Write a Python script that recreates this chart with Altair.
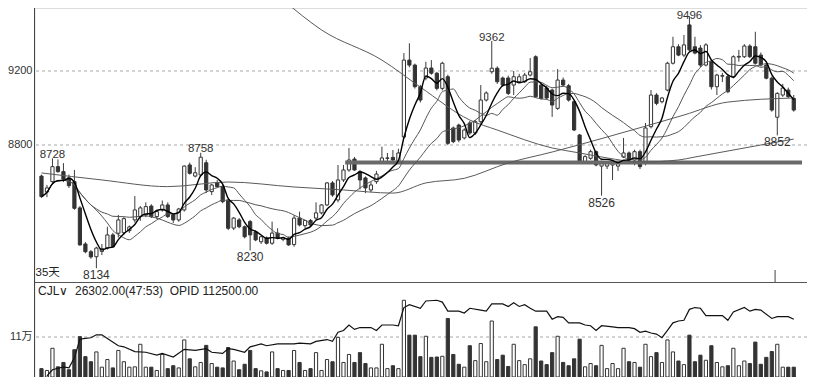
import altair as alt
import pandas as pd

# ---------------- data ----------------
OPEN = [8632, 8546, 8602, 8683, 8656, 8622, 8602, 8460, 8265, 8223,
        8196, 8225, 8243, 8314, 8323, 8326, 8337, 8395, 8413, 8422,
        8470, 8413, 8449, 8476, 8422, 8395, 8449, 8692, 8632, 8638,
        8704, 8548, 8596, 8575, 8503, 8351, 8395, 8358, 8386, 8331,
        8277, 8297, 8269, 8324, 8290, 8297, 8262, 8405, 8364, 8392,
        8405, 8433, 8476, 8595, 8503, 8611, 8665, 8724, 8656, 8622,
        8557, 8602, 8710, 8728, 8733, 8710, 8843, 9259, 9232, 9115,
        9162, 9216, 9188, 9106, 9169, 8892, 8908, 8838, 8919, 8865,
        8926, 9043, 9196, 9215, 9162, 9162, 9124, 9142, 9142, 9178,
        9277, 9124, 9108, 9097, 8998, 9151, 9120, 9034, 8854, 8710,
        8728, 8764, 8686, 8686, 8692, 8686, 8735, 8757, 8719, 8764,
        8703, 8899, 9070, 9034, 9097, 9242, 9331, 9286, 9449, 9331,
        9324, 9232, 9250, 9115, 9172, 9169, 9169, 9275, 9277, 9335,
        9331, 9286, 9232, 9161, 8950, 9070, 9097, 9052]
HIGH = [8640, 8584, 8728, 8722, 8702, 8640, 8665, 8470, 8275, 8232,
        8250, 8265, 8358, 8325, 8422, 8410, 8365, 8524, 8470, 8490,
        8480, 8450, 8500, 8490, 8430, 8460, 8690, 8705, 8680, 8758,
        8720, 8590, 8610, 8585, 8510, 8410, 8405, 8365, 8395, 8340,
        8310, 8305, 8386, 8350, 8305, 8305, 8420, 8440, 8395, 8400,
        8490, 8480, 8600, 8605, 8692, 8692, 8784, 8735, 8665, 8630,
        8600, 8660, 8791, 8757, 8773, 8780, 9297, 9350, 9240, 9125,
        9250, 9259, 9195, 9250, 9180, 8900, 8915, 8890, 8930, 8935,
        9124, 9090, 9362, 9225, 9170, 9175, 9200, 9185, 9190, 9270,
        9285, 9135, 9120, 9105, 9210, 9165, 9130, 9040, 8860, 8745,
        8775, 8770, 8715, 8712, 8712, 8710, 8838, 8765, 8775, 8775,
        8919, 9097, 9080, 9060, 9250, 9385, 9345, 9395, 9496, 9385,
        9340, 9350, 9260, 9185, 9190, 9180, 9285, 9314, 9345, 9345,
        9412, 9300, 9245, 9170, 9085, 9130, 9110, 9070]
LOW = [8514, 8518, 8595, 8650, 8600, 8568, 8450, 8255, 8215, 8185,
       8134, 8205, 8235, 8245, 8300, 8315, 8325, 8380, 8390, 8410,
       8405, 8400, 8440, 8405, 8378, 8385, 8440, 8640, 8625, 8630,
       8540, 8530, 8570, 8485, 8340, 8340, 8350, 8295, 8230, 8280,
       8265, 8262, 8260, 8290, 8280, 8255, 8250, 8360, 8350, 8360,
       8395, 8425, 8470, 8520, 8490, 8600, 8655, 8660, 8560, 8540,
       8545, 8590, 8700, 8703, 8705, 8700, 8835, 9220, 9105, 9030,
       9150, 9180, 9095, 9095, 8800, 8810, 8815, 8830, 8855, 8855,
       8915, 9035, 9185, 9130, 9115, 9070, 9070, 9135, 9135, 9170,
       9055, 9045, 9045, 8952, 8990, 9115, 9035, 8875, 8700, 8700,
       8720, 8685, 8526, 8670, 8611, 8660, 8730, 8700, 8690, 8670,
       8690, 8890, 9015, 9025, 9090, 9235, 9280, 9275, 9305, 9290,
       9220, 9225, 9100, 9070, 9140, 9080, 9160, 9250, 9270, 9270,
       9235, 9225, 9155, 8980, 8852, 9060, 9055, 8980]
CLOSE = [8521, 8568, 8683, 8656, 8615, 8580, 8458, 8260, 8223, 8195,
         8243, 8240, 8314, 8250, 8395, 8402, 8357, 8449, 8460, 8467,
         8413, 8440, 8476, 8413, 8395, 8454, 8686, 8647, 8650, 8734,
         8557, 8584, 8575, 8494, 8350, 8405, 8358, 8304, 8314, 8287,
         8304, 8269, 8324, 8297, 8300, 8260, 8405, 8368, 8392, 8368,
         8433, 8476, 8595, 8530, 8611, 8665, 8719, 8665, 8611, 8568,
         8584, 8643, 8730, 8730, 8719, 8757, 9259, 9232, 9115, 9043,
         9216, 9188, 9106, 9242, 8809, 8818, 8827, 8881, 8865, 8926,
         9043, 9081, 9215, 9142, 9124, 9079, 9169, 9169, 9178, 9196,
         9061, 9052, 9054, 9016, 9151, 9124, 9043, 8881, 8710, 8737,
         8764, 8692, 8710, 8708, 8708, 8703, 8757, 8719, 8764, 8683,
         8892, 9070, 9025, 9054, 9242, 9331, 9286, 9341, 9314, 9297,
         9232, 9341, 9115, 9178, 9175, 9088, 9277, 9279, 9335, 9277,
         9242, 9232, 9161, 8989, 9079, 9108, 9061, 8989]
VOLUME = [23000, 18000, 79000, 28000, 40000, 20000, 75000, 111000, 56000, 42000,
          69000, 27000, 48000, 25000, 73000, 42000, 27000, 28000, 90000, 27000,
          27000, 18000, 62000, 23000, 31000, 25000, 102000, 50000, 28000, 40000,
          87000, 37000, 27000, 25000, 81000, 44000, 20000, 35000, 73000, 23000,
          17000, 14000, 69000, 23000, 18000, 18000, 73000, 40000, 18000, 23000,
          67000, 18000, 48000, 42000, 109000, 40000, 62000, 40000, 67000, 37000,
          25000, 25000, 90000, 23000, 31000, 23000, 211000, 115000, 115000, 56000,
          112000, 54000, 55000, 57000, 161000, 62000, 35000, 27000, 86000, 45000,
          92000, 42000, 154000, 48000, 60000, 29000, 90000, 45000, 34000, 50000,
          138000, 44000, 34000, 67000, 112000, 40000, 31000, 50000, 104000, 28000,
          37000, 31000, 87000, 23000, 37000, 23000, 79000, 42000, 40000, 27000,
          90000, 56000, 67000, 40000, 102000, 69000, 44000, 34000, 115000, 42000,
          60000, 46000, 86000, 40000, 28000, 31000, 79000, 31000, 44000, 37000,
          96000, 35000, 54000, 70000, 90000, 27000, 27000, 27000]

# open-interest line in the lower panel (candle index, value)
OPID_IDX = [1, 2, 4, 5, 6, 7, 8, 9, 10, 11, 12, 14, 15, 17, 19, 21, 22, 24, 26, 28,
            30, 31, 33, 34, 35, 37, 38, 40, 41, 43, 46, 47, 49, 50, 52, 53, 54, 55, 56, 57,
            58, 60, 61, 62, 64, 65, 66, 67, 69, 70, 72, 73, 74, 76, 77, 78, 80, 81, 82, 84,
            85, 86, 87, 88, 89, 90, 92, 93, 94, 95, 96, 98, 99, 100, 101, 102, 104, 105, 107, 108,
            109, 110, 111, 112, 113, 114, 115, 116, 117, 118, 119, 120, 121, 123, 124, 125, 126, 128, 129, 130,
            131, 133, 134, 136, 137]
OPID_VAL = [3000, 20000, 28000, 25000, 53000, 104000, 106000, 108000, 116000, 116000,
            106000, 86000, 83000, 70000, 68000, 60000, 65000, 55000, 76000, 73000,
            78000, 68000, 65000, 78000, 76000, 68000, 83000, 91000, 86000, 91000,
            91000, 93000, 91000, 98000, 103000, 98000, 123000, 128000, 143000, 131000,
            136000, 136000, 128000, 143000, 143000, 141000, 191000, 199000, 189000, 209000,
            211000, 206000, 181000, 181000, 176000, 189000, 184000, 181000, 201000, 201000,
            194000, 204000, 194000, 199000, 189000, 181000, 181000, 159000, 166000, 164000,
            149000, 149000, 143000, 141000, 128000, 141000, 138000, 136000, 136000, 133000,
            123000, 126000, 121000, 118000, 108000, 128000, 149000, 154000, 156000, 186000,
            191000, 189000, 169000, 169000, 169000, 156000, 179000, 191000, 181000, 186000,
            184000, 161000, 166000, 166000, 159000]

# long moving averages (candle index, price)
MA60_IDX = [0, 11, 23, 34, 46, 55, 64, 70, 77, 85, 93, 103, 117, 125, 137]
MA60_VAL = [8649, 8611, 8575, 8600, 8573, 8557, 8540, 8595, 8620, 8703, 8762, 8843, 8962, 9032, 9054]
MA120_IDX = [36, 44, 51, 62, 69, 78, 83, 93, 98, 103, 109, 116, 119, 131, 137]
MA120_VAL = [9800, 9584, 9422, 9259, 9113, 8935, 8881, 8784, 8757, 8730, 8708, 8719, 8735, 8800, 8832]

PEAK_IDX = [2, 29, 82, 118]
TROUGH_IDX = [10, 38, 102, 134]
PRICE_TICKS = [8800, 9200]
VOL_TICK = 110000
VOL_TICK_LABEL = "11万"
SUPPORT_PRICE = 8706
SUPPORT_FROM, SUPPORT_TO = 55.3, 138.5
CURSOR_IDX = 133.6
DAYS_LABEL = "35天"
NB = "\u00a0"
HEADER = "CJL\u2228" + NB * 2 + "26302.00(47:53)" + NB * 2 + "OPID" + NB + "112500.00"

# ---------------- layout ----------------
W, H = 772.5, 369
X_DOMAIN = [-0.36, 138.5]
P_DOMAIN = [7546.0, 9540.5]
V_DOMAIN = [0, 1014750]
LABEL_CEIL = 9480          # keeps the highest peak label inside the page
FONT = "Liberation Sans"
CJK_FONT = "Liberation Sans, Noto Sans CJK SC"
DARK = "#333333"
GRID = "#a8a8a8"

n = len(CLOSE)
df = pd.DataFrame({"i": list(range(n)), "o": OPEN, "h": HIGH, "l": LOW,
                   "c": CLOSE, "v": VOLUME})
df["up"] = df["c"] >= df["o"]

xs = alt.Scale(domain=X_DOMAIN, nice=False, zero=False)
ps = alt.Scale(domain=P_DOMAIN, nice=False, zero=False)
vs = alt.Scale(domain=V_DOMAIN, nice=False, zero=False)


def X(field="i"):
    return alt.X(f"{field}:Q", scale=xs, axis=None)


def P(field):
    return alt.Y(f"{field}:Q", scale=ps, axis=None)


def V(field):
    return alt.Y(f"{field}:Q", scale=vs, axis=None)


fill = alt.condition("datum.up", alt.value("#ffffff"), alt.value(DARK))
base = alt.Chart(df)

# price "axis": dashed grid, labels and the left frame line
ticks_df = pd.DataFrame({"p": PRICE_TICKS, "t": [str(t) for t in PRICE_TICKS]})
pgrid = alt.Chart(ticks_df).mark_rule(color=GRID, strokeDash=[3, 3], strokeWidth=1).encode(
    y=P("p"))
plabels = alt.Chart(ticks_df).mark_text(font=FONT, fontSize=11, color="#333333",
                                        align="right", baseline="middle").encode(
    x=alt.value(-2), y=P("p"), text="t:N")
frame = alt.Chart(pd.DataFrame({"t": [0]})).mark_rule(color="#444444", strokeWidth=1).encode(
    x=alt.value(0), y=alt.value(0), y2=alt.value(H))

wick = base.mark_rule(color="#3c3c3c", strokeWidth=1).encode(
    x=X(), y=P("l"), y2="h:Q")
body = base.mark_bar(size=3.2, stroke=DARK, strokeWidth=1).encode(
    x=X(), y=P("o"), y2="c:Q", fill=fill)

support = alt.Chart(pd.DataFrame({"p": [SUPPORT_PRICE], "a": [SUPPORT_FROM],
                                  "b": [SUPPORT_TO]})).mark_rule(
    color="#6a6a6a", strokeWidth=4).encode(x=X("a"), x2="b:Q", y=P("p"))

ma60 = alt.Chart(pd.DataFrame({"i": MA60_IDX, "p": MA60_VAL})).mark_line(
    color="#5a5a5a", strokeWidth=1, interpolate="monotone", clip=True).encode(
    x=X(), y=P("p"))
ma120 = alt.Chart(pd.DataFrame({"i": MA120_IDX, "p": MA120_VAL})).mark_line(
    color="#5a5a5a", strokeWidth=1, interpolate="monotone", clip=True).encode(
    x=X(), y=P("p"))

srt = [alt.SortField("i", order="ascending")]
ma_base = base.transform_window(ma5="mean(c)", frame=[-4, 0], sort=srt) \
    .transform_window(ma10="mean(c)", frame=[-9, 0], sort=srt) \
    .transform_window(ma20="mean(c)", frame=[-19, 0], sort=srt)
ma20 = ma_base.mark_line(color="#555555", strokeWidth=1, interpolate="monotone").encode(
    x=X(), y=P("ma20"))
ma10 = ma_base.mark_line(color="#555555", strokeWidth=1, interpolate="monotone").encode(
    x=X(), y=P("ma10"))
ma5 = ma_base.mark_line(color="#000000", strokeWidth=1.4, interpolate="monotone").encode(
    x=X(), y=P("ma5"))

peaks_df = pd.DataFrame({"i": PEAK_IDX, "p": [HIGH[k] for k in PEAK_IDX],
                         "t": [str(HIGH[k]) for k in PEAK_IDX]})
troughs_df = pd.DataFrame({"i": TROUGH_IDX, "p": [LOW[k] for k in TROUGH_IDX],
                           "t": [str(LOW[k]) for k in TROUGH_IDX]})
peaks = alt.Chart(peaks_df).transform_calculate(
    py=f"min(datum.p, {LABEL_CEIL})").mark_text(
    font=FONT, fontSize=11.5, color="#333333", baseline="alphabetic", dy=-0.5).encode(
    x=X(), y=P("py"), text="t:N")
troughs = alt.Chart(troughs_df).mark_text(font=FONT, fontSize=12, color="#333333",
                                          baseline="top", dy=2).encode(
    x=X(), y=P("p"), text="t:N")

days = alt.Chart(pd.DataFrame({"t": [DAYS_LABEL]})).mark_text(
    font=CJK_FONT, fontSize=11.5, color="#222222", align="left",
    baseline="middle").encode(x=alt.value(1), y=alt.value(265), text="t:N")

cursor = alt.Chart(pd.DataFrame({"i": [CURSOR_IDX]})).mark_rule(
    color="#444444", strokeWidth=1).encode(x=X(), y=alt.value(262), y2=alt.value(274.5))

price_layer = alt.layer(pgrid, plabels, wick, body, support, ma120, ma60, ma20, ma10, ma5,
                        peaks, troughs, days, cursor, frame)

# ---------------- lower panel ----------------
vgrid = alt.Chart(pd.DataFrame({"v": [VOL_TICK]})).mark_rule(
    color=GRID, strokeDash=[3, 3], strokeWidth=1).encode(y=V("v"))
vlabel = alt.Chart(pd.DataFrame({"v": [VOL_TICK], "t": [VOL_TICK_LABEL]})).mark_text(
    font=CJK_FONT, fontSize=11, color="#333333", align="right",
    baseline="middle").encode(x=alt.value(-2), y=V("v"), text="t:N")
vbars = base.mark_bar(size=3.2, stroke=DARK, strokeWidth=1).encode(
    x=X(), y=V("v"), fill=fill)
opid = alt.Chart(pd.DataFrame({"i": OPID_IDX, "v": OPID_VAL})).mark_line(
    color="#111111", strokeWidth=1.2).encode(x=X(), y=V("v"))
header = alt.Chart(pd.DataFrame({"t": [HEADER]})).mark_text(
    font=FONT, fontSize=12, color="#222222", align="left", baseline="middle").encode(
    x=alt.value(3.5), y=alt.value(283), text="t:N")
sep = alt.Chart(pd.DataFrame({"t": [0]})).mark_rule(color="#555555", strokeWidth=1).encode(
    x=alt.value(0), x2=alt.value(W), y=alt.value(274.5))

vol_layer = alt.layer(vgrid, vbars, opid, vlabel, header, sep)

chart = alt.layer(price_layer, vol_layer).resolve_scale(y="independent").properties(
    width=W, height=H,
    autosize=alt.AutoSizeParams(type="none"),
    padding={"left": 26.5, "top": 0, "right": 0, "bottom": 0},
).configure_view(stroke="transparent", strokeWidth=0).configure(background="white")

chart.save("out.html", embed_options={"renderer": "svg", "actions": False})
